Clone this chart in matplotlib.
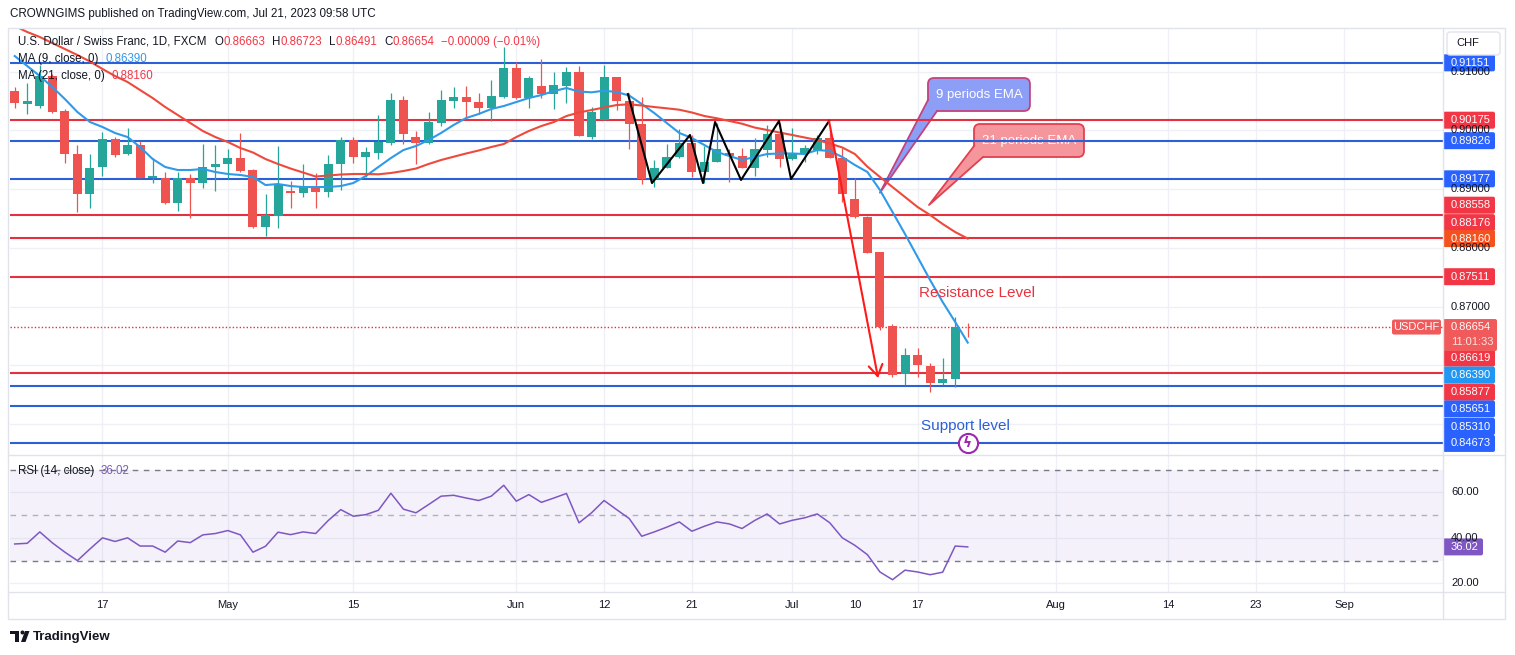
import matplotlib.pyplot as plt
import matplotlib.patches as mpatches
from matplotlib.lines import Line2D
from matplotlib.transforms import IdentityTransform
import pandas as pd

plt.rcParams['font.family'] = ['Liberation Sans', 'DejaVu Sans']

# ---------------- data (USDCHF, 1D, FXCM) ----------------
start_day = '2023-04-06'

opens = [0.90671, 0.90455, 0.90421, 0.90932, 0.90331, 0.89594, 0.88913, 0.89383, 0.89854, 0.89594,
         0.89752, 0.89196, 0.89186, 0.88760, 0.89186, 0.89100, 0.89373, 0.89424, 0.89526, 0.89327,
         0.88362, 0.88549, 0.88969, 0.88940, 0.89043, 0.88957, 0.89424, 0.89837, 0.89553, 0.89621,
         0.89791, 0.90518, 0.89888, 0.89781, 0.90132, 0.90506, 0.90569, 0.90479, 0.90387, 0.90569,
         0.91068, 0.90547, 0.90757, 0.90615, 0.90762, 0.90990, 0.89894, 0.90178, 0.90905, 0.90506,
         0.90105, 0.89169, 0.89356, 0.89543, 0.89781, 0.89298, 0.89468, 0.89611, 0.89565, 0.89356,
         0.89667, 0.89940, 0.89509, 0.89599, 0.89667, 0.89866, 0.89526, 0.88828, 0.88532, 0.87926,
         0.86677, 0.85849, 0.86178, 0.85991, 0.85696, 0.85764, 0.86663]
highs = [0.90745, 0.90803, 0.91114, 0.90956, 0.90365, 0.89752, 0.89599, 0.89968, 0.89894, 0.90047,
         0.89820, 0.89526, 0.89288, 0.89288, 0.89254, 0.89764, 0.89752, 0.89679, 0.89951, 0.89340,
         0.88913, 0.89740, 0.89140, 0.89429, 0.89271, 0.89582, 0.89894, 0.89894, 0.89713, 0.90263,
         0.90632, 0.90591, 0.89991, 0.90309, 0.90688, 0.90734, 0.90757, 0.90643, 0.90859, 0.91426,
         0.91165, 0.90932, 0.91216, 0.90990, 0.91085, 0.91097, 0.90394, 0.91114, 0.90910, 0.90632,
         0.90564, 0.89497, 0.89764, 0.90025, 0.89923, 0.89740, 0.90122, 0.89679, 0.89706, 0.89866,
         0.90093, 0.90122, 0.90047, 0.89752, 0.89923, 0.90064, 0.89696, 0.89186, 0.88540, 0.87930,
         0.86706, 0.86292, 0.86292, 0.86047, 0.86122, 0.86830, 0.86723]
lows = [0.90377, 0.90280, 0.90377, 0.90292, 0.89451, 0.88607, 0.88675, 0.89230, 0.89553, 0.89582,
        0.89186, 0.89100, 0.88755, 0.88629, 0.88515, 0.89015, 0.88969, 0.89174, 0.89293, 0.88334,
        0.88209, 0.88345, 0.88685, 0.88872, 0.88685, 0.88872, 0.88986, 0.89441, 0.89213, 0.89514,
        0.89752, 0.89764, 0.89424, 0.89764, 0.90076, 0.90387, 0.90207, 0.90280, 0.90161, 0.90547,
        0.90540, 0.90377, 0.90547, 0.90360, 0.90462, 0.89900, 0.89849, 0.90170, 0.90348, 0.89679,
        0.89083, 0.89032, 0.89353, 0.89526, 0.89213, 0.89100, 0.89458, 0.89128, 0.89353, 0.89230,
        0.89553, 0.89373, 0.89505, 0.89468, 0.89599, 0.89523, 0.88787, 0.88518, 0.87914, 0.86603,
        0.85809, 0.85667, 0.85809, 0.85553, 0.85667, 0.85638, 0.86491]
closes = [0.90462, 0.90501, 0.90932, 0.90319, 0.89594, 0.88913, 0.89356, 0.89849, 0.89582, 0.89752,
          0.89196, 0.89225, 0.88760, 0.89186, 0.89100, 0.89373, 0.89429, 0.89526, 0.89315, 0.88362,
          0.88561, 0.89072, 0.88940, 0.89054, 0.88957, 0.89429, 0.89837, 0.89553, 0.89628, 0.89798,
          0.90518, 0.89934, 0.89781, 0.90139, 0.90518, 0.90569, 0.90489, 0.90387, 0.90586, 0.91068,
          0.90547, 0.90888, 0.90615, 0.90774, 0.90990, 0.89906, 0.90309, 0.90910, 0.90506, 0.90105,
          0.89169, 0.89356, 0.89543, 0.89781, 0.89298, 0.89468, 0.89679, 0.89565, 0.89356, 0.89679,
          0.89940, 0.89509, 0.89599, 0.89696, 0.89866, 0.89526, 0.88913, 0.88522, 0.87919, 0.86660,
          0.85837, 0.86178, 0.86008, 0.85696, 0.85764, 0.86663, 0.86654]

ma9 = [0.91267, 0.91097, 0.90927, 0.90740, 0.90535, 0.90314, 0.90144, 0.90059, 0.89957, 0.89888,
       0.89718, 0.89514, 0.89378, 0.89327, 0.89327, 0.89344, 0.89293, 0.89259, 0.89242, 0.89208,
       0.89071, 0.89088, 0.89054, 0.89037, 0.89037, 0.89037, 0.89054, 0.89105, 0.89225, 0.89378,
       0.89531, 0.89667, 0.89735, 0.89837, 0.89957, 0.90093, 0.90212, 0.90280, 0.90365, 0.90416,
       0.90484, 0.90552, 0.90603, 0.90671, 0.90722, 0.90663, 0.90649, 0.90677, 0.90654, 0.90595,
       0.90450, 0.90297, 0.90127, 0.89957, 0.89871, 0.89752, 0.89633, 0.89565, 0.89497, 0.89548,
       0.89599, 0.89608, 0.89608, 0.89599, 0.89667, 0.89650, 0.89548, 0.89412, 0.89293, 0.88986,
       0.88612, 0.88237, 0.87846, 0.87454, 0.87080, 0.86740, 0.86390]
ma21 = [0.91778, 0.91676, 0.91591, 0.91488, 0.91386, 0.91284, 0.91174, 0.91046, 0.90927, 0.90825,
        0.90688, 0.90552, 0.90399, 0.90263, 0.90127, 0.89991, 0.89888, 0.89803, 0.89701, 0.89625,
        0.89514, 0.89429, 0.89352, 0.89284, 0.89216, 0.89233, 0.89250, 0.89259, 0.89259, 0.89254,
        0.89276, 0.89310, 0.89352, 0.89429, 0.89497, 0.89553, 0.89608, 0.89659, 0.89718, 0.89769,
        0.89888, 0.89991, 0.90076, 0.90144, 0.90246, 0.90306, 0.90348, 0.90391, 0.90433, 0.90445,
        0.90425, 0.90399, 0.90377, 0.90353, 0.90306, 0.90246, 0.90207, 0.90161, 0.90115, 0.90050,
        0.90008, 0.89965, 0.89923, 0.89880, 0.89837, 0.89778, 0.89710, 0.89599, 0.89383, 0.89208,
        0.89037, 0.88867, 0.88697, 0.88561, 0.88408, 0.88271, 0.88160]
rsi = [37.3, 37.6, 42.6, 37.8, 33.7, 30.0, 35.1, 40.0, 38.4, 40.0,
       36.4, 36.4, 33.7, 38.6, 37.9, 41.3, 41.9, 43.2, 41.3, 33.7,
       36.3, 42.5, 41.4, 42.6, 41.9, 47.6, 52.4, 49.5, 50.2, 52.1,
       59.6, 52.6, 51.0, 54.6, 58.3, 58.7, 57.5, 56.4, 58.3, 63.1,
       56.1, 59.0, 55.6, 57.5, 59.5, 46.6, 51.0, 56.4, 52.4, 48.5,
       40.7, 42.6, 44.7, 47.0, 42.9, 45.1, 47.0, 46.1, 44.1, 47.6,
       50.5, 46.1, 47.7, 48.8, 50.5, 46.6, 40.0, 36.7, 32.6, 25.0,
       21.6, 25.8, 25.0, 23.8, 24.9, 36.4, 36.02]

red_levels = [0.90175, 0.88558, 0.88176, 0.87511, 0.85877]
blue_levels = [0.91151, 0.89826, 0.89177, 0.85651, 0.85310, 0.84673]
last_price = 0.86654

tick_dates = ['2023-04-17', '2023-05-01', '2023-05-15', '2023-06-01', '2023-06-12', '2023-06-21',
              '2023-07-03', '2023-07-10', '2023-07-17', '2023-08-01', '2023-08-14', '2023-08-23',
              '2023-09-01']
tick_labels = ['17', 'May', '15', 'Jun', '12', '21', 'Jul', '10', '17', 'Aug', '14', '23', 'Sep']
no_grid = ['2023-07-10']
price_ticks = [0.85, 0.86, 0.87, 0.88, 0.89, 0.90, 0.91]
price_tick_text = [0.87, 0.88, 0.89, 0.90, 0.91]   # the others are covered by tags
rsi_ticks = [20, 40, 60]

# drawings (bar index, price)
zigzag_x = [48.9, 50.82, 53.85, 54.89, 55.85, 57.92, 60.95, 61.91, 64.94]
zigzag_y = [0.90620, 0.89105, 0.89923, 0.89105, 0.90144, 0.89157, 0.90161, 0.89174, 0.90161]
drop_start = (64.94, 0.90161)
drop_end = (68.85, 0.85786)

# ---------------- style ----------------
UP, DOWN = '#26a69a', '#ef5350'
RED_LN, BLUE_LN = '#e3313f', '#2c60d6'
RED_TAG, BLUE_TAG = '#f23645', '#2962ff'
MA9_C, MA21_C = '#2f9ae8', '#ee4a3c'
TXT = '#131722'
GRID = '#eef0f5'
BORDER = '#e0e3eb'

W, H = 1515, 655
fig = plt.figure(figsize=(W / 100, H / 100), dpi=100)
fig.patch.set_facecolor('white')


def rect(l, t, r, b):
    return [l / W, 1 - b / H, (r - l) / W, (b - t) / H]


ax = fig.add_axes(rect(10, 28, 1443, 455))
axr = fig.add_axes(rect(10, 455, 1443, 592))
for a in (ax, axr):
    a.set_xlim(-0.375, 113.9)
    for s in a.spines.values():
        s.set_visible(False)
    a.set_xticks([])
    a.set_yticks([])
ax.set_ylim(0.84476, 0.91744)
axr.set_ylim(16.2, 76.4)

days = pd.bdate_range(start_day, '2023-09-29')
day_idx = {d.strftime('%Y-%m-%d'): i for i, d in enumerate(days)}
n = len(closes)
xs = list(range(n))

# grid
for d in tick_dates:
    if d in no_grid:
        continue
    for a in (ax, axr):
        a.axvline(day_idx[d], color=GRID, lw=1, zorder=0)
for p in price_ticks:
    ax.axhline(p, color=GRID, lw=1, zorder=0)
for r in rsi_ticks:
    axr.axhline(r, color=GRID, lw=1, zorder=0)

# levels
for lv in red_levels:
    ax.axhline(lv, color=RED_LN, lw=1.5, zorder=2)
for lv in blue_levels:
    ax.axhline(lv, color=BLUE_LN, lw=1.5, zorder=2)
ax.axhline(last_price, color=RED_LN, lw=1, ls=(0, (1, 1.5)), zorder=2)

# candles
cols = [UP if c >= o else DOWN for o, c in zip(opens, closes)]
ax.vlines(xs, lows, highs, colors=cols, lw=0.9, zorder=3)
bottoms = [min(o, c) for o, c in zip(opens, closes)]
heights = [max(abs(c - o), 0.00005) for o, c in zip(opens, closes)]
ax.bar(xs, heights, bottom=bottoms, width=0.72, color=cols, zorder=3.1)

# moving averages
ax.plot(xs, ma9, color=MA9_C, lw=1.5, zorder=4)
ax.plot(xs, ma21, color=MA21_C, lw=1.5, zorder=4)

# pattern + arrow
ax.plot(zigzag_x, zigzag_y, color='black', lw=1.5, zorder=5)
ax.annotate('', xy=drop_end, xytext=drop_start,
            arrowprops=dict(arrowstyle='->,head_length=0.8,head_width=0.5', color='#ff1a1a', lw=1.5,
                            shrinkA=0, shrinkB=0), zorder=5)

ID = IdentityTransform()


def callout(box, base, tip, text, face, edge):
    x0, x1, y0, y1 = box
    p0 = ax.transData.transform((x0, y0))
    p1 = ax.transData.transform((x1, y1))
    ax.add_patch(mpatches.FancyBboxPatch((p0[0], p0[1]), p1[0] - p0[0], p1[1] - p0[1],
                                         boxstyle='round,pad=0,rounding_size=6', fc=face, ec=edge,
                                         lw=1.3, transform=ID, zorder=1))
    b0 = ax.transData.transform(base[0])
    b1 = ax.transData.transform(base[1])
    t = ax.transData.transform(tip)
    ax.add_patch(mpatches.Polygon([b0, b1, t], closed=True, fc=face, ec='none', transform=ID, zorder=1.1))
    ax.add_line(Line2D([b0[0], t[0], b1[0]], [b0[1], t[1], b1[1]], color=edge, lw=1.3,
                       transform=ID, zorder=1.2))
    ax.text((p0[0] + p1[0]) / 2, (p0[1] + p1[1]) / 2, text, color='white', fontsize=9.5,
            ha='center', va='center', transform=ID, zorder=1.3)


callout((72.83, 80.96, 0.90331, 0.90893), [(72.83, 0.90518), (73.55, 0.90331)], (69.0, 0.88940),
        '9 periods EMA', '#8d9ef6', '#c4437c')
callout((76.50, 85.27, 0.89548, 0.90110), [(76.50, 0.89735), (77.22, 0.89548)], (72.91, 0.88731),
        '21 periods EMA', '#f5969c', '#e2404f')

ax.text(76.74, 0.87233, 'Resistance Level', color='#e8323f', fontsize=11, ha='center', va='center', zorder=6)
ax.text(75.8, 0.84975, 'Support level', color='#2c60d6', fontsize=11, ha='center', va='center', zorder=6)
ax.scatter([76], [blue_levels[-1]], s=190, facecolor='white', edgecolor='#9c27b0', lw=1.5, zorder=6)
ax.text(76, blue_levels[-1], 'ϟ', color='#9c27b0', fontsize=10, fontweight='bold', ha='center',
        va='center', zorder=7, family='DejaVu Sans')

# RSI pane
axr.axhspan(30, 70, color='#7e57c2', alpha=0.08, lw=0, zorder=0.5)
for lv, al in ((70, 1.0), (50, 0.55), (30, 1.0)):
    axr.axhline(lv, color='#787b86', lw=1, ls=(0, (4, 4)), alpha=al, zorder=1)
axr.plot(xs, rsi, color='#7e57c2', lw=1.1, zorder=3)

# ---------------- frame ----------------
def hline_px(y, x0, x1):
    fig.add_artist(Line2D([x0, x1], [H - y, H - y], color=BORDER, lw=1, transform=ID))


def vline_px(x, y0, y1):
    fig.add_artist(Line2D([x, x], [H - y0, H - y1], color=BORDER, lw=1, transform=ID))


fig.add_artist(mpatches.Rectangle((8, H - 619), 1497, 591, fill=False, ec=BORDER, lw=1, transform=ID))
hline_px(455, 8, 1505)
hline_px(592, 8, 1505)
vline_px(1443, 28, 619)

# time axis labels
for d, lab in zip(tick_dates, tick_labels):
    xd = axr.transData.transform((day_idx[d], 0))[0]
    fig.text(xd / W, 1 - 605 / H, lab, ha='center', va='center', fontsize=8, color=TXT)

# price axis labels
for p in price_tick_text:
    yd = ax.transData.transform((0, p))[1]
    fig.text(1451 / W, yd / H, f'{p:.5f}', ha='left', va='center', fontsize=8, color=TXT)
for r in rsi_ticks:
    yd = axr.transData.transform((0, r))[1]
    fig.text(1451 / W, yd / H, f'{r:.2f}', ha='left', va='center', fontsize=8, color=TXT)


def tag(yd, text, face, x0=1443, w=52, h=17, fc_txt='white'):
    fig.add_artist(mpatches.FancyBboxPatch((x0, yd - h / 2), w, h, boxstyle='round,pad=0,rounding_size=2',
                                           fc=face, ec='none', transform=ID))
    fig.text((x0 + 8) / W, yd / H, text, ha='left', va='center', fontsize=8, color=fc_txt)


# (price, colour, nudge in px downwards to avoid overlaps)
axis_tags = [(0.91151, BLUE_TAG, 0), (0.90175, RED_TAG, 0), (0.89826, BLUE_TAG, 0), (0.89177, BLUE_TAG, 0),
             (0.88558, RED_TAG, -10), (0.88176, RED_TAG, -15), (0.88160, '#f4511e', 0),
             (0.87511, RED_TAG, 0), (0.86619, RED_TAG, 29), (0.86390, '#2196f3', 32.5),
             (0.85877, RED_TAG, 19.5), (0.85651, BLUE_TAG, 23), (0.85310, BLUE_TAG, 20.5),
             (0.84673, BLUE_TAG, 0)]
for p, c, nudge in axis_tags:
    yd = ax.transData.transform((0, p))[1] - nudge
    tag(yd, f'{p:.5f}', c)

# last price block + symbol tag
yl = ax.transData.transform((0, last_price))[1]
fig.add_artist(mpatches.FancyBboxPatch((1443, yl - 24), 54, 32, boxstyle='round,pad=0,rounding_size=2',
                                       fc='#f05a5a', ec='none', transform=ID))
fig.text(1451 / W, yl / H, f'{last_price:.5f}', ha='left', va='center', fontsize=8, color='white')
fig.text(1451 / W, (yl - 15) / H, '11:01:33', ha='left', va='center', fontsize=8, color='#fde2e2')
fig.add_artist(mpatches.FancyBboxPatch((1392, yl - 7.5), 49, 15, boxstyle='round,pad=0,rounding_size=2',
                                       fc='#f05a5a', ec='none', transform=ID))
fig.text(1416.5 / W, yl / H, 'USDCHF', ha='center', va='center', fontsize=8, color='white')

yr = axr.transData.transform((0, rsi[-1]))[1]
tag(yr, f'{rsi[-1]:.2f}', '#7e57c2', w=40)

# currency button
fig.add_artist(mpatches.FancyBboxPatch((1447, H - 55), 53, 23, boxstyle='round,pad=0,rounding_size=3',
                                       fc='white', ec=BORDER, lw=1, transform=ID))
fig.text(1468 / W, 1 - 43 / H, 'CHF', ha='center', va='center', fontsize=8, color=TXT)

# ---------------- header + legends ----------------
renderer = fig.canvas.get_renderer()


def run_text(x, y, pieces, size=8.3):
    for s, c, gap in pieces:
        t = fig.text(x / W, 1 - y / H, s, color=c, ha='left', va='center', fontsize=size)
        x += t.get_window_extent(renderer).width + gap


fig.text(10 / W, 1 - 14 / H, 'CROWNGIMS published on TradingView.com, Jul 21, 2023 09:58 UTC',
         ha='left', va='center', fontsize=8.4, color=TXT)
RV = '#f23645'
run_text(18, 42, [('U.S. Dollar / Swiss Franc, 1D, FXCM', TXT, 8),
                  ('O', TXT, 0), (f'{opens[-1]:.5f}', RV, 7),
                  ('H', TXT, 0), (f'{highs[-1]:.5f}', RV, 7),
                  ('L', TXT, 0), (f'{lows[-1]:.5f}', RV, 7),
                  ('C', TXT, 0), (f'{closes[-1]:.5f}', RV, 6),
                  ('−0.00009 (−0.01%)', RV, 0)])
run_text(18, 59, [('MA (9, close, 0)', TXT, 7), (f'{ma9[-1]:.5f}', MA9_C, 0)])
run_text(18, 76, [('MA (21, close, 0)', TXT, 7), (f'{ma21[-1]:.5f}', RV, 0)])
run_text(18, 471, [('RSI (14, close)', TXT, 6), (f'{rsi[-1]:.2f}', '#7e57c2', 0)])

# TradingView logo
for patch in (mpatches.Rectangle((10, H - 634), 9, 3.5, fc=TXT, ec='none', transform=ID),
              mpatches.Rectangle((14.5, H - 642), 4.5, 11, fc=TXT, ec='none', transform=ID),
              mpatches.Circle((22.5, H - 632.5), 2, fc=TXT, ec='none', transform=ID),
              mpatches.Polygon([(25, H - 631), (29.5, H - 631), (25.5, H - 642), (21, H - 642)],
                               fc=TXT, ec='none', transform=ID)):
    fig.add_artist(patch)
fig.text(33 / W, 1 - 637 / H, 'TradingView', ha='left', va='center', fontsize=9.5,
         fontweight='bold', color=TXT)

fig.savefig('out.png', dpi=100)
